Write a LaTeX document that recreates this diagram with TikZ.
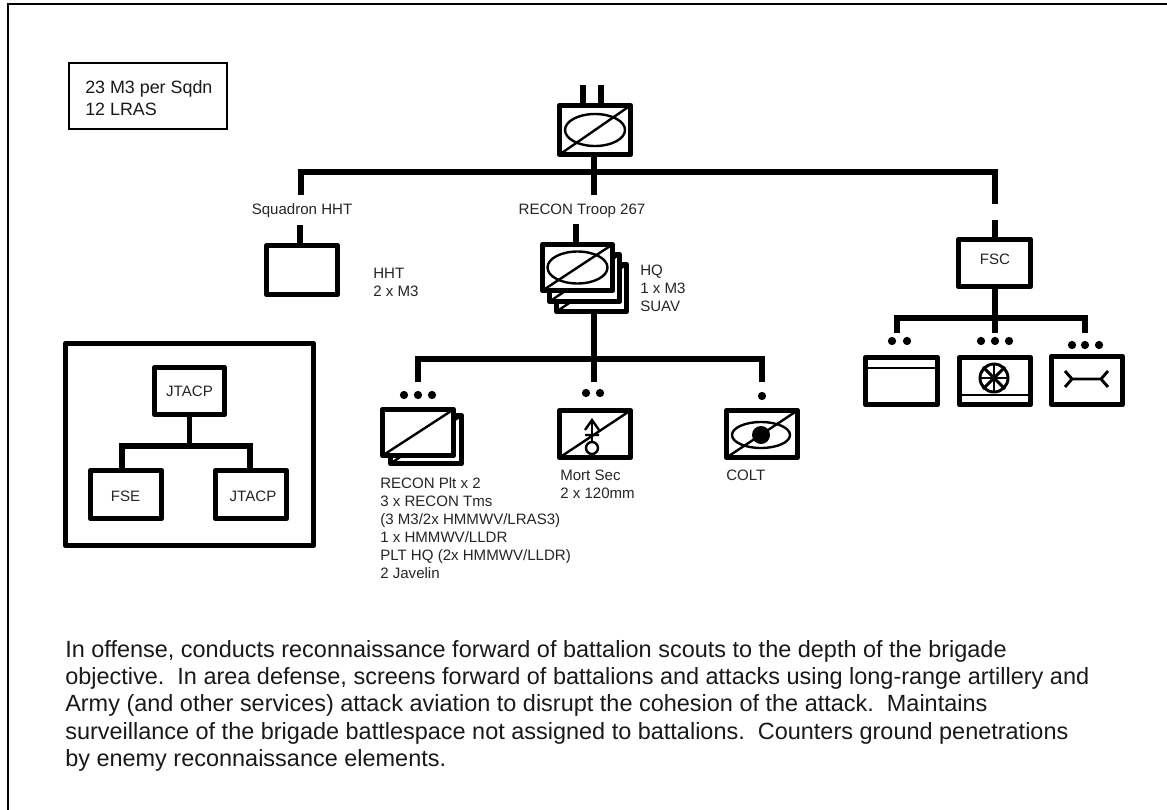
\documentclass[tikz,border=0pt]{standalone}
\usepackage{fontspec}
\setmainfont{Liberation Sans}
\usetikzlibrary{shapes.geometric}
\newcommand{\pxbox}[5]{\pgfmathsetmacro{\pw}{(#4-4.6)*0.75}\pgfmathsetmacro{\ph}{(#5-4.6)*0.75}\node[#1,minimum width=\pw pt,minimum height=\ph pt] (#2) at (#3) {};}
\tikzset{
  heavy/.style={draw,line width=3.5pt,line join=round,fill=white,inner sep=0pt,outer sep=0pt},
  wire/.style={line width=3.9pt,line join=miter},
  thin line/.style={line width=1.8pt},
  mid line/.style={line width=2.2pt},
  lab/.style={font=\fontsize{11.3pt}{13.55pt}\selectfont,text=black!85,align=left,inner sep=0pt},
  big/.style={font=\fontsize{13.4pt}{16.6pt}\selectfont,text=black!90,align=left,inner sep=0pt},
  dot/.style={circle,fill=black,inner sep=0pt,minimum size=6.2pt},
  oval/.style={draw,ellipse,thin line,inner sep=0pt},
}
\begin{document}
\begin{tikzpicture}[x=0.75pt,y=-0.75pt]
\useasboundingbox (0,0) rectangle (1167,810);
\fill[white] (0,0) rectangle (1167,810);
% frame
\coordinate (fa) at (8,810); \coordinate (fb) at (8,4); \coordinate (fc) at (1167,4);
\draw[line width=1.6pt] (fa)--(fb)--(fc);
% note
\node[draw,line width=1.6pt,minimum width=118.5pt,minimum height=49.5pt,inner sep=0pt] (note) at (148,96) {};
\node[big,anchor=west] (notet) at (85,98) {23 M3 per Sqdn\\12 LRAS};
% top unit
\coordinate (p1) at (583,85); \coordinate (p2) at (601,85);
\draw[wire] (p1)--(583,105) (p2)--(601,105);
\coordinate (busc) at (594,195);
% main bus
\coordinate (bl) at (301,172); \coordinate (br) at (995,172);
\coordinate (blend) at (301,195); \coordinate (brend) at (995,204);
\draw[wire] (blend)--(bl)--(br)--(brend);
\draw[wire] (594,155)--(busc);
\pxbox{heavy}{top}{595,130}{76}{54}
\draw[thin line] (top.south west)--(top.north east);
\node[oval,minimum width=45pt,minimum height=24pt] (e1) at (top.center) {};
\node[lab] (sq) at (302,211) {Squadron HHT};
\node[lab] (rt) at (582,211) {RECON Troop 267};
% HHT
\draw[wire] (300,225)--(300,245);
\pxbox{heavy}{hht}{302,270}{76}{54}
\node[lab,anchor=west] (hhtt) at (373,282) {HHT\\2 x M3};
% Troop stack
\draw[wire] (576,224)--(576,244);
\draw[wire] (594,312)--(594,382);
\pxbox{heavy}{t3}{591.5,288}{75}{52}
\draw[thin line] (t3.south west)--(t3.north east);
\pxbox{heavy}{t2}{584.5,278}{75}{52}
\draw[thin line] (t2.south west)--(t2.north east);
\pxbox{heavy}{t1}{577.5,267.5}{75}{51}
\draw[thin line] (t1.south west)--(t1.north east);
\node[oval,minimum width=45pt,minimum height=24pt] (e2) at (t1.center) {};
\node[lab,anchor=west] (hq) at (640,288) {HQ\\1 x M3\\SUAV};
% second bus
\coordinate (sl) at (418,359); \coordinate (sr) at (762,359);
\draw[wire] (418,382)--(sl)--(sr)--(762,382);
\foreach \n/\x in {a/404,b/418,c/432} \node[dot] (d\n) at (\x,395) {};
\node[dot] (dd) at (586,393) {}; \node[dot] (de) at (600,393) {};
\node[dot] (df) at (762,396) {};
% recon
\pxbox{heavy}{r2}{426,439.5}{76}{53}
\draw[thin line] (r2.south west)--(r2.north east);
\pxbox{heavy}{r1}{418,432.5}{76}{51}
\draw[thin line] (r1.south west)--(r1.north east);
\node[lab,anchor=north west] (rt2) at (380,477) {RECON Plt x 2\\3 x RECON Tms\\(3 M3/2x HMMWV/LRAS3)\\1 x HMMWV/LLDR\\PLT HQ (2x HMMWV/LLDR)\\2 Javelin};
% mortar
\pxbox{heavy}{m}{595,434}{76}{52}
\draw[thin line] (m.south west)--(m.north east);
\node[draw,circle,thin line,minimum size=9pt,inner sep=0pt] (mc) at (592,448) {};
\draw[thin line] (mc.north)--(592,420);
\draw[thin line] (585,430)--(592,420)--(599,430) (585,435)--(599,435);
\node[lab,anchor=north west] (mt) at (560,470) {Mort Sec\\2 x 120mm};
% colt
\pxbox{heavy}{c}{762,434}{76}{52}
\draw[thin line] (c.south west)--(c.north east);
\node[oval,minimum width=43.5pt,minimum height=19.5pt] (e3) at (761,435) {};
\node[circle,fill=black,minimum size=13.5pt,inner sep=0pt] (cd) at (761,435) {};
\node[lab,anchor=north west] (ct) at (726,470) {COLT};
% FSC
\draw[wire] (995,220)--(995,239);
\draw[wire] (995,287)--(995,333);
\pxbox{heavy}{fsc}{994.5,263}{77}{52}
\node[lab] (fsct) at (995,259) {FSC};
\draw[wire] (897,333)--(897,318)--(1085,318)--(1085,333);
\foreach \n/\x/\y in {a/892/341,b/907/341,c/981/341,d/995/341,e/1009/341,f/1072/345,g/1085/345,h/1099/345} \node[dot] (f\n) at (\x,\y) {};
\pxbox{heavy}{a}{901.5,381}{77}{52}
\draw[mid line] (a.west|-0,368)--(a.east|-0,368);
\pxbox{heavy}{b}{995,381}{76}{52}
\draw[mid line] (b.west|-0,395)--(b.east|-0,395);
\node[draw,circle,mid line,minimum size=21pt,inner sep=0pt] (w) at (994,378) {};
\foreach \ang in {0,45,90,135} {\pgfmathtruncatemacro{\opp}{\ang+180}\draw[mid line] (w.\ang)--(w.\opp);}
\pxbox{heavy}{g}{1087,380.5}{76}{53}
\draw[mid line] (1065,371)--(1072,379)--(1065,387) (1072,379)--(1101,379) (1108,371)--(1101,379)--(1108,387);
% liaison
\pxbox{heavy}{jo}{189.5,444.5}{253}{207}
\draw[wire] (189.5,415)--(189.5,446);
\draw[wire] (122,470)--(122,446)--(250,446)--(250,470);
\pxbox{heavy}{j1}{189.5,391}{75}{52}
\pxbox{heavy}{fse}{126,494.5}{76}{53}
\pxbox{heavy}{j2}{251,494.5}{76}{53}
\node[lab] (j1t) at (189.5,391) {JTACP};
\node[lab] (fset) at (125.5,496) {FSE};
\node[lab] (j2t) at (253,496) {JTACP};
% body
\node[big,anchor=north west,font=\fontsize{17.6pt}{20.5pt}\selectfont] (body) at (65,640) {In offense, conducts reconnaissance forward of battalion scouts to the depth of the brigade\\objective.\ \ In area defense, screens forward of battalions and attacks using long-range artillery and\\Army (and other services) attack aviation to disrupt the cohesion of the attack.\ \ Maintains\\surveillance of the brigade battlespace not assigned to battalions.\ \ Counters ground penetrations\\by enemy reconnaissance elements.};
\end{tikzpicture}
\end{document}
